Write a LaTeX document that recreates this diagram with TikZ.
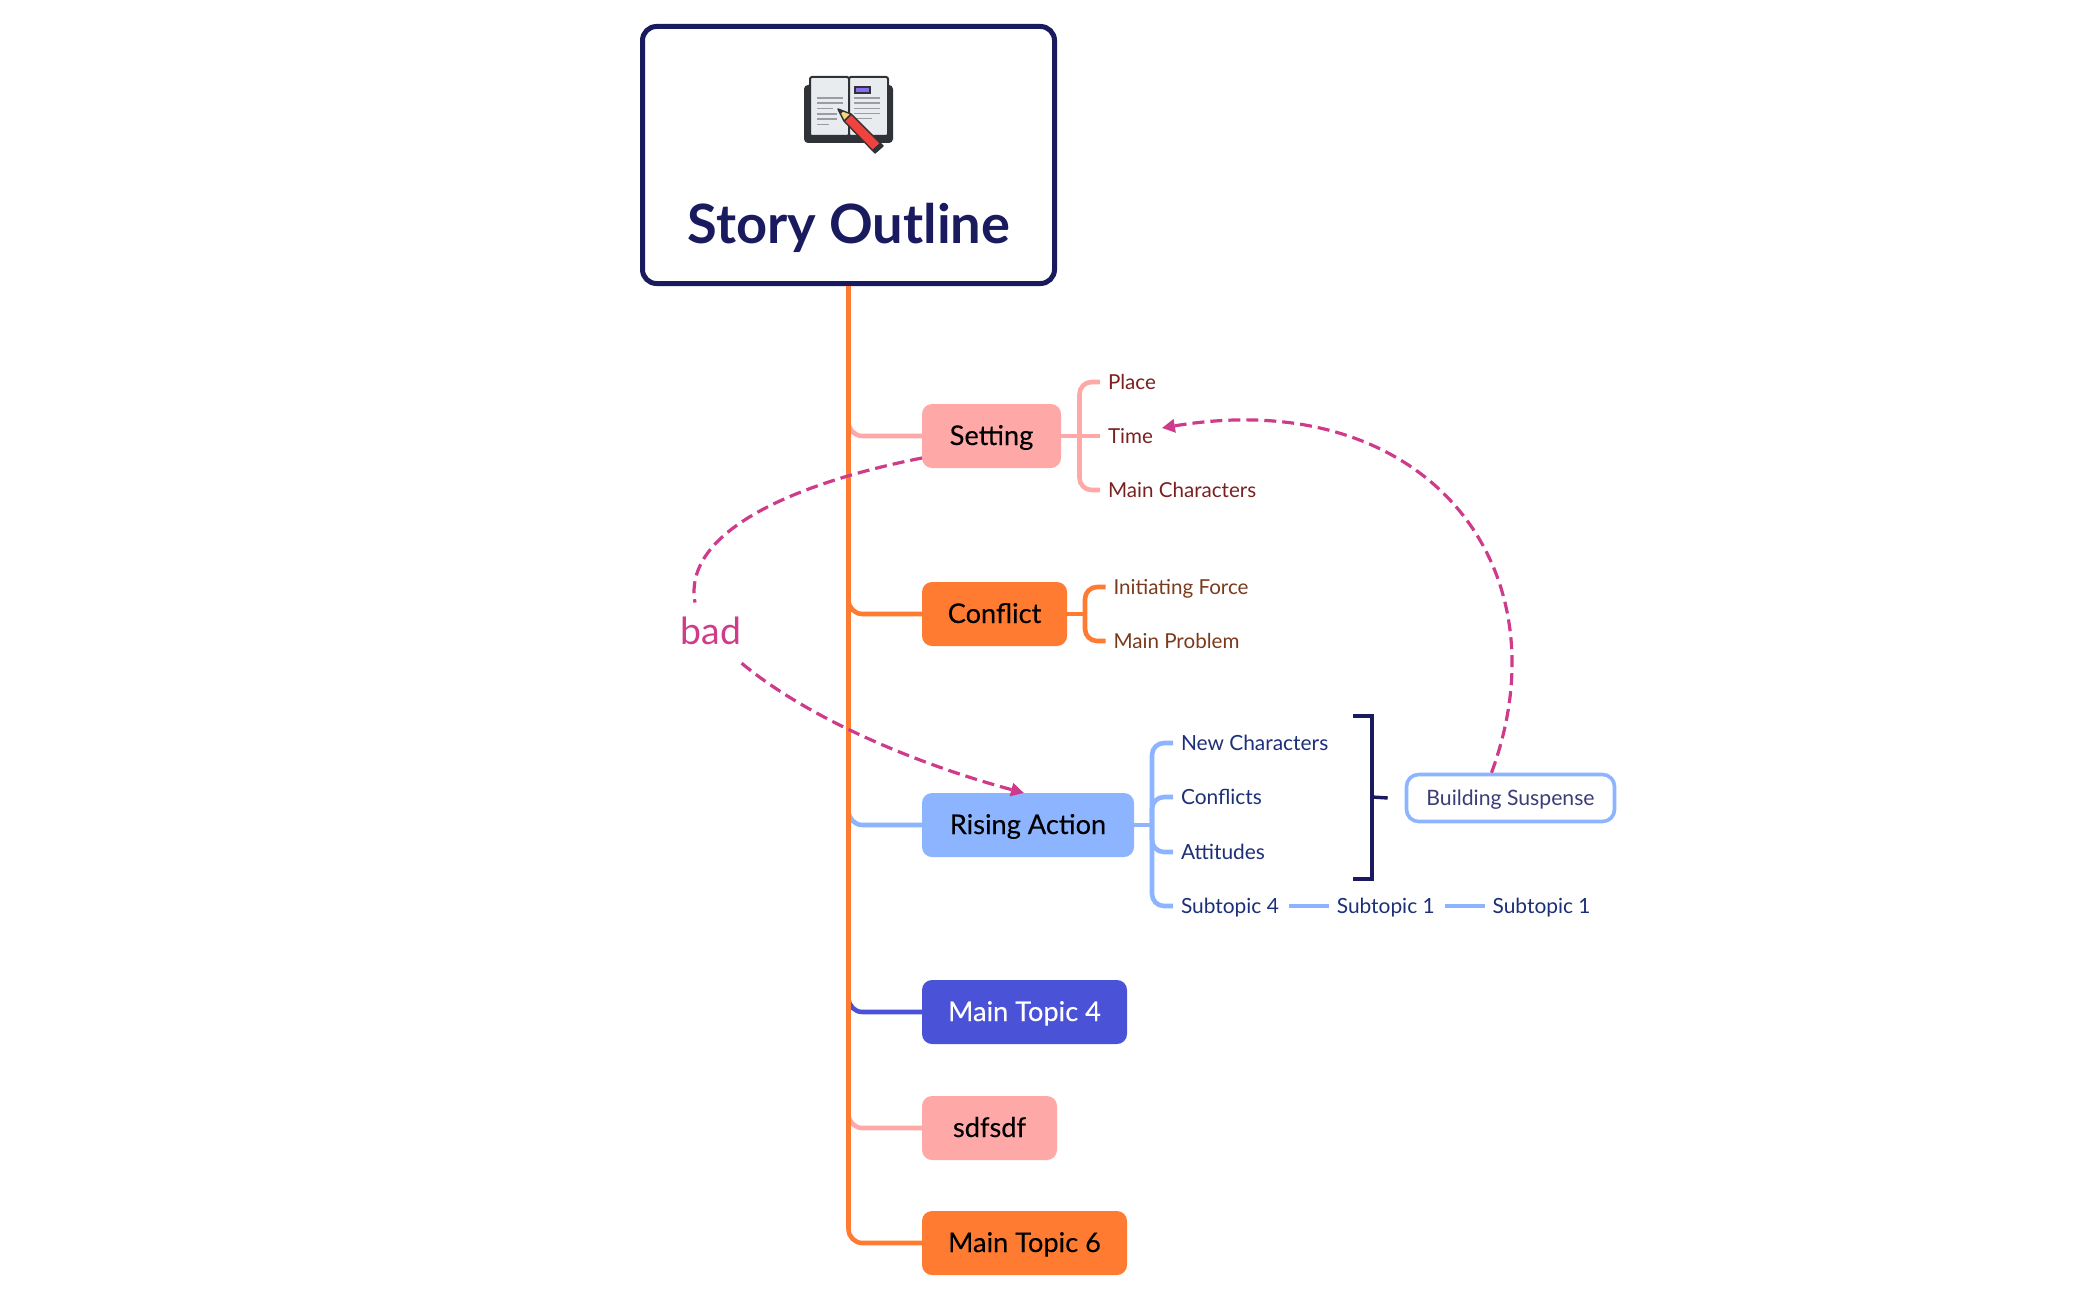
\documentclass[tikz,border=0pt]{standalone}
\usepackage{fontspec}
\setmainfont{Lato}
\newfontfamily\topicfont[FakeBold=0.2]{Lato}
\usetikzlibrary{positioning, arrows.meta}

\definecolor{navyink}{HTML}{1A1A5E}
\definecolor{pinktopic}{HTML}{FFA8A8}
\definecolor{orangetopic}{HTML}{FF7B31}
\definecolor{bluetopic}{HTML}{8CB4FF}
\definecolor{indigotopic}{HTML}{4A52D8}
\definecolor{relink}{HTML}{CF3B8B}
\definecolor{settingtext}{HTML}{7B2020}
\definecolor{conflicttext}{HTML}{7A3A1C}
\definecolor{risingtext}{HTML}{1C2F78}
\definecolor{bookdark}{HTML}{2F3337}
\definecolor{bookpage}{HTML}{E8ECEF}
\definecolor{bookline}{HTML}{9A9EA2}
\definecolor{bookmark}{HTML}{8A6CF0}
\definecolor{pencilred}{HTML}{F0433F}
\definecolor{pencilwood}{HTML}{F8D77A}

\begin{document}
\begin{tikzpicture}[
    x=0.5pt, y=-0.5pt,
    rootbox/.style={
        draw=navyink,
        line width=2.5pt,
        rounded corners=7pt,
        minimum width=206pt,
        minimum height=128.5pt
    },
    topicbox/.style={
        rounded corners=5pt,
        minimum height=32pt,
        inner sep=0pt,
        outer sep=0pt,
        text height=12pt,
        text depth=3pt,
        font=\topicfont\fontsize{13.6}{15}\selectfont
    },
    childtext/.style={
        anchor=west,
        inner xsep=4pt,
        inner ysep=0pt,
        outer sep=0pt,
        text height=9.3pt,
        text depth=2pt,
        font=\fontsize{10.3}{12}\selectfont
    },
    risetext/.style={
        childtext,
        text=risingtext,
        font=\fontsize{10.45}{12}\selectfont
    },
    branch/.style={line width=2.3pt, rounded corners=7pt},
    fork/.style={line width=2.3pt, rounded corners=6pt},
    relation/.style={
        draw=relink,
        line width=1.6pt,
        dash pattern=on 6pt off 3pt
    },
    relarrow/.style={
        relation,
        ->, >={Triangle[length=6.5pt,width=6.5pt]}
    }
]
\useasboundingbox (0,0) rectangle (2097,1300);

% Central topic
\node[rootbox] (root) at (848.5,155) {};
\node[anchor=base, text=navyink, font=\fontsize{27.1}{30}\selectfont\bfseries] (title) at (849,243) {Story Outline};

% Book and pencil
\fill[bookdark, rounded corners=2pt] (804,85) rectangle (893,143);
\draw[bookdark, fill=bookpage, line width=1pt, rounded corners=1pt] (810,77) rectangle (849,136);
\draw[bookdark, fill=bookpage, line width=1pt, rounded corners=1pt] (849,77) rectangle (888,136);
\draw[bookdark, fill=bookmark, line width=0.8pt] (855,87) rectangle (870,93);
\foreach \ya/\xb in {98/843, 103/843, 108.5/833, 114/837, 119/837, 124.5/829}
    \draw[bookline, line width=0.8pt] (817,\ya) -- (\xb,\ya);
\foreach \ya/\xb in {98/880, 103/880, 108.5/880, 113.5/880, 118.5/872}
    \draw[bookline, line width=0.8pt] (854,\ya) -- (\xb,\ya);
\draw[bookdark, fill=pencilred, line width=0.7pt, line join=round] (844,121) -- (851,114) -- (883,146) -- (875,153) -- cycle;
\fill[bookdark] (872,150) -- (880,143) -- (883,146) -- (875,153) -- cycle;
\draw[bookdark, fill=pencilwood, line width=0.7pt, line join=round] (838,109) -- (851,114) -- (844,121) -- cycle;
\fill[bookdark] (838,109) -- (843.5,111) -- (840,114.5) -- cycle;

% Main topics - stacked vertically
\node[topicbox, fill=pinktopic, minimum width=69.5pt, anchor=north west] (setting) at (922,404) {Setting};
\node[topicbox, fill=orangetopic, minimum width=72.5pt, below=57pt of setting.south west, anchor=north west] (conflict) {Conflict};
\node[topicbox, fill=bluetopic, minimum width=106pt, below=73.5pt of conflict.south west, anchor=north west] (rising) {Rising Action};
\node[topicbox, fill=indigotopic, text=white, minimum width=102.5pt, below=61.5pt of rising.south west, anchor=north west] (topicfour) {Main Topic 4};
\node[topicbox, fill=pinktopic, minimum width=67.5pt, below=26pt of topicfour.south west, anchor=north west] (sdf) {sdfsdf};
\node[topicbox, fill=orangetopic, minimum width=102.5pt, below=25.5pt of sdf.south west, anchor=north west] (topicsix) {Main Topic 6};

% Setting children
\node[childtext, text=settingtext] (place) at (1100,382) {Place};
\node[childtext, text=settingtext] (time) at (1100,436) {Time};
\node[childtext, text=settingtext] (maincast) at (1100,490) {Main Characters};

% Conflict children
\node[childtext, text=conflicttext] (force) at (1105.5,587) {Initiating Force};
\node[childtext, text=conflicttext] (problem) at (1105.5,641) {Main Problem};

% Rising Action children
\node[risetext] (newcast) at (1173,743) {New Characters};
\node[risetext] (clashes) at (1173,797) {Conflicts};
\node[risetext] (attitudes) at (1173,852) {Attitudes};
\node[risetext] (subfour) at (1173,906) {Subtopic 4};
\node[risetext, right=21pt of subfour] (subone) {Subtopic 1};
\node[risetext, right=21pt of subone] (subtwo) {Subtopic 1};

% Summary box
\node[draw=bluetopic, line width=1.8pt, rounded corners=6pt, minimum width=104pt, minimum height=23.5pt,
    text=navyink!85, inner sep=0pt, text height=9.3pt, text depth=2pt, font=\fontsize{10.6}{12}\selectfont] (suspense) at (1510.5,798) {Building Suspense};

% Floating label
\node[text=relink, inner sep=0pt, anchor=base, font=\fontsize{18.7}{20}\selectfont] (bad) at (711,644.5) {bad};

% Trunk branches, last one on top
\draw[branch, pinktopic] (root.south) |- (setting.west);
\draw[branch, orangetopic] (root.south) |- (conflict.west);
\draw[branch, bluetopic] (root.south) |- (rising.west);
\draw[branch, indigotopic] (root.south) |- (topicfour.west);
\draw[branch, pinktopic] (root.south) |- (sdf.west);
\draw[branch, orangetopic] (root.south) |- (topicsix.west);

% Forks
\coordinate (setfork) at (1079.5,436);
\coordinate (conffork) at (1085,614);
\coordinate (risefork) at (1152,825);
\draw[fork, pinktopic] (setting.east) -- (time.west);
\draw[fork, pinktopic] (setfork) |- (place.west);
\draw[fork, pinktopic] (setfork) |- (maincast.west);
\draw[fork, orangetopic] (conflict.east) -- (conffork);
\draw[fork, orangetopic] (conffork) |- (force.west);
\draw[fork, orangetopic] (conffork) |- (problem.west);
\draw[fork, bluetopic] (rising.east) -- (risefork);
\draw[fork, bluetopic] (risefork) |- (newcast.west);
\draw[fork, bluetopic] (risefork) |- (clashes.west);
\draw[fork, bluetopic] (risefork) |- (attitudes.west);
\draw[fork, bluetopic] (risefork) |- (subfour.west);
\draw[fork, bluetopic, shorten <=1pt] (subfour.east) -- (subone.west);
\draw[fork, bluetopic, shorten <=1pt] (subone.east) -- (subtwo.west);

% Summary bracket
\coordinate (brtop) at (1353,716);
\coordinate (brmid) at (1372,797);
\coordinate (brbot) at (1353,879);
\draw[navyink, line width=1.7pt] (brtop) -- (brtop -| brmid) -- (brbot -| brmid) -- (brbot);
\draw[navyink, line width=1.7pt] (brmid) -- ([xshift=-8.5pt]suspense.west);

% Relationship curves
\draw[relation] ([yshift=-11pt]setting.west) .. controls (800,482) and (682,530) .. ([shift={(-8pt,7pt)}]bad.north);
\draw[relarrow] ([yshift=-9pt]bad.south east) .. controls (810,720) and (920,765) .. ([xshift=-2pt]rising.north);
\draw[relarrow] ([xshift=-9.5pt]suspense.north) .. controls (1568,565) and (1424,384) .. ([shift={(0.5pt,4pt)}]time.east);

\end{tikzpicture}
\end{document}
